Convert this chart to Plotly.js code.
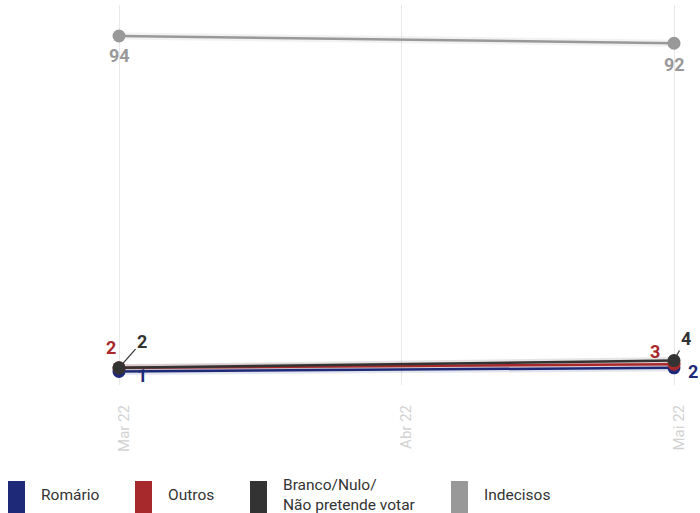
<!DOCTYPE html>
<html><head><meta charset="utf-8">
<script src="https://cdn.plot.ly/plotly-3.0.1.min.js"></script>
<style>html,body{margin:0;padding:0;background:#fff}#chart{width:700px;height:513px}</style>
</head><body><div id="chart"></div>
<script>
const dates = ['2022-03-01', '2022-05-01'];
const xRange = ['2022-02-26 21:53', '2022-05-02 18:13'];
const tickVals = ['2022-03-01', '2022-04-01', '2022-05-01'];
const tickText = ['Mar 22', 'Abr 22', 'Mai 22'];
const seriesNames = ['Romário', 'Outros', 'Branco/Nulo/<br>Não pretende votar', 'Indecisos'];
const romario = [1, 2];
const outros = [2, 3];
const branco = [2, 4];
const indecisos = [94, 92];
const colors = ['#1e2a78', '#a8292b', '#333333', '#999999'];
const allSeries = [romario, outros, branco, indecisos];

// label offsets (px) per series per point: [dx, dy, arrow]
const labelOffsets = [
  [[23, 4, false], [19, 4, false]],
  [[-8, -20, false], [-19, -13, false]],
  [[23, -26, true], [12, -22, true]],
  [[0, 19, false], [0, 21, false]]
];

const L = 100, R = 10, T = 5, B = 128;

const traces = [];
allSeries.forEach((s, i) => {
  traces.push({x: dates, y: s, type: 'scatter', mode: 'lines', hoverinfo: 'skip',
    line: {color: colors[i], width: 7}, opacity: 0.12, showlegend: false, cliponaxis: false});
});
allSeries.forEach((s, i) => {
  traces.push({x: dates, y: s, type: 'scatter', mode: 'lines+markers', name: seriesNames[i],
    line: {color: colors[i], width: 2.5}, marker: {color: colors[i], size: 13},
    showlegend: false, cliponaxis: false});
});

const annotations = [];
allSeries.forEach((s, i) => {
  s.forEach((v, j) => {
    const [dx, dy, arrow] = labelOffsets[i][j];
    const a = {x: dates[j], y: v, xref: 'x', yref: 'y', text: String(v),
      font: {family: 'Roboto', size: 18, color: colors[i], weight: 'bold'}};
    if (arrow) {
      Object.assign(a, {showarrow: true, ax: dx, ay: dy, arrowhead: 0, arrowwidth: 1.2,
        arrowcolor: colors[i], standoff: 6, startstandoff: 0});
    } else {
      Object.assign(a, {showarrow: false, xshift: dx, yshift: -dy});
    }
    annotations.push(a);
  });
});

// manual legend
const legendX = [8, 135, 250, 451];
const plotBottom = 513 - B;
const shapes = [];
seriesNames.forEach((n, i) => {
  shapes.push({type: 'rect', xref: 'paper', yref: 'paper', xsizemode: 'pixel', ysizemode: 'pixel',
    xanchor: 0, yanchor: 0, x0: legendX[i] - L, x1: legendX[i] - L + 17,
    y0: -(481 - plotBottom), y1: -(513 - plotBottom), fillcolor: colors[i], line: {width: 0}, layer: 'above'});
  annotations.push({xref: 'paper', yref: 'paper', x: 0, y: 0, xanchor: 'left', yanchor: 'middle',
    xshift: legendX[i] + 31 - L, yshift: -(495 - plotBottom), text: n, showarrow: false, align: 'left',
    font: {family: 'Roboto', size: 15.5, color: '#333'}});
});

const layout = {
  width: 700, height: 513,
  margin: {l: L, r: R, t: T, b: B},
  paper_bgcolor: '#fff', plot_bgcolor: '#fff',
  showlegend: false,
  xaxis: {type: 'date', range: xRange, tickvals: tickVals, ticktext: tickText,
    tickangle: -90, showgrid: true, gridcolor: '#e8e8e8', gridwidth: 1, zeroline: false,
    showline: false, ticks: '', ticklabelstandoff: 16, ticklabelshift: 5,
    tickfont: {family: 'Roboto', size: 15, color: '#d2d2d2'}},
  yaxis: {range: [-2.77, 102.6], showgrid: false, zeroline: false, showticklabels: false,
    showline: false, ticks: ''},
  annotations: annotations,
  shapes: shapes
};
Plotly.newPlot('chart', traces, layout, {displayModeBar: false, staticPlot: true});
</script></body></html>
